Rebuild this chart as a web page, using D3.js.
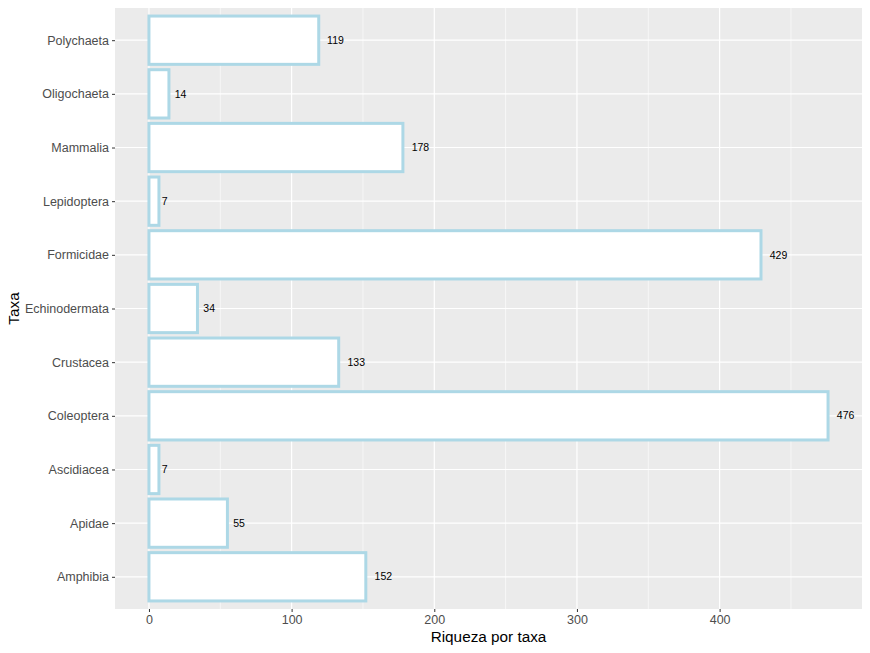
<!DOCTYPE html>
<html>
<head>
<meta charset="utf-8">
<script src="https://cdn.jsdelivr.net/npm/d3@7"></script>
<style>
  body { margin: 0; background: #fff; }
  text { font-family: "Liberation Sans", Arial, sans-serif; }
</style>
</head>
<body>
<script>
// categories top to bottom
var taxa = ["Polychaeta", "Oligochaeta", "Mammalia", "Lepidoptera", "Formicidae",
            "Echinodermata", "Crustacea", "Coleoptera", "Ascidiacea", "Apidae", "Amphibia"];
var riqueza = [119, 14, 178, 7, 429, 34, 133, 476, 7, 55, 152];
var xTicks = [0, 100, 200, 300, 400];
var xMinor = [50, 150, 250, 350, 450];

var W = 870, H = 653;
var panel = { left: 115, right: 862, top: 8, bottom: 609 };

var svg = d3.select("body").append("svg")
    .attr("width", W)
    .attr("height", H);

var maxV = d3.max(riqueza);
var x = d3.scaleLinear()
    .domain([-0.05 * maxV, 1.05 * maxV])
    .range([panel.left, panel.right]);

// discrete scale with 0.6 expansion on each side
var step = (panel.bottom - panel.top) / (taxa.length - 1 + 1.2);
var y = d3.scalePoint()
    .domain(taxa)
    .range([panel.top + 0.6 * step, panel.bottom - 0.6 * step]);
var barH = step * 0.9;

// panel background
svg.append("rect")
    .attr("x", panel.left).attr("y", panel.top)
    .attr("width", panel.right - panel.left)
    .attr("height", panel.bottom - panel.top)
    .attr("fill", "#EBEBEB");

// minor grid
svg.selectAll(".minor").data(xMinor).enter().append("line")
    .attr("x1", d => x(d)).attr("x2", d => x(d))
    .attr("y1", panel.top).attr("y2", panel.bottom)
    .attr("stroke", "#fff").attr("stroke-width", 0.6);

// major grid
svg.selectAll(".majx").data(xTicks).enter().append("line")
    .attr("x1", d => x(d)).attr("x2", d => x(d))
    .attr("y1", panel.top).attr("y2", panel.bottom)
    .attr("stroke", "#fff").attr("stroke-width", 1.2);

svg.selectAll(".majy").data(taxa).enter().append("line")
    .attr("x1", panel.left).attr("x2", panel.right)
    .attr("y1", d => y(d)).attr("y2", d => y(d))
    .attr("stroke", "#fff").attr("stroke-width", 1.2);

// bars
svg.selectAll(".bar").data(taxa).enter().append("rect")
    .attr("x", x(0))
    .attr("y", d => y(d) - barH / 2)
    .attr("width", (d, i) => x(riqueza[i]) - x(0))
    .attr("height", barH)
    .attr("fill", "#fff")
    .attr("stroke", "#ADD8E6")
    .attr("stroke-width", 3);

// value labels (hjust = -0.5)
svg.selectAll(".lbl").data(taxa).enter().append("text")
    .attr("y", d => y(d))
    .attr("dy", "0.35em")
    .attr("font-size", 10.5)
    .attr("fill", "#000")
    .text((d, i) => riqueza[i])
    .attr("x", function (d, i) {
        var w = this.getComputedTextLength();
        return x(riqueza[i]) + 0.5 * w;
    });

// x axis
var xAxis = svg.append("g")
    .attr("transform", "translate(0," + panel.bottom + ")")
    .call(d3.axisBottom(x).tickValues(xTicks).tickSize(3).tickPadding(3));
xAxis.select(".domain").remove();
xAxis.selectAll("line").attr("stroke", "#333").attr("stroke-width", 1);
xAxis.selectAll("text").attr("fill", "#4D4D4D").attr("font-size", 12.5)
    .attr("font-family", "Liberation Sans, Arial, sans-serif");

// y axis
var yAxis = svg.append("g")
    .attr("transform", "translate(" + panel.left + ",0)")
    .call(d3.axisLeft(y).tickSize(3).tickPadding(3));
yAxis.select(".domain").remove();
yAxis.selectAll("line").attr("stroke", "#333").attr("stroke-width", 1);
yAxis.selectAll("text").attr("fill", "#4D4D4D").attr("font-size", 12.5)
    .attr("font-family", "Liberation Sans, Arial, sans-serif");

// axis titles
svg.append("text")
    .attr("x", (panel.left + panel.right) / 2)
    .attr("y", 642)
    .attr("text-anchor", "middle")
    .attr("font-size", 15.3)
    .attr("fill", "#000")
    .text("Riqueza por taxa");

svg.append("text")
    .attr("transform", "translate(19," + (panel.top + panel.bottom) / 2 + ") rotate(-90)")
    .attr("text-anchor", "middle")
    .attr("font-size", 15.3)
    .attr("fill", "#000")
    .text("Taxa");
</script>
</body>
</html>
